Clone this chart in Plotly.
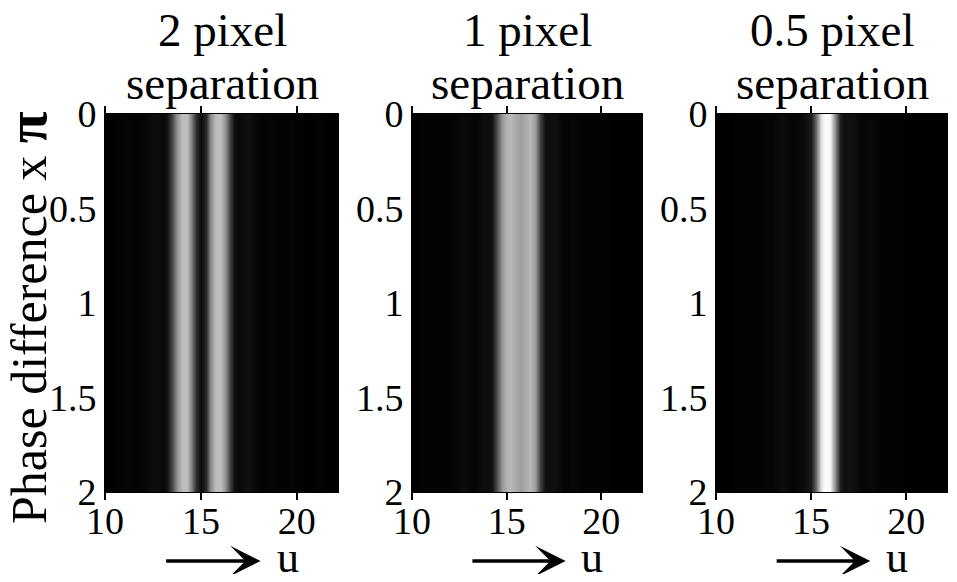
import plotly.graph_objects as go

# ---------------- data ----------------
u = [10.0, 10.25, 10.5, 10.75, 11.0, 11.25, 11.5, 11.75, 12.0, 12.25,
     12.5, 12.75, 13.0, 13.25, 13.5, 13.75, 14.0, 14.25, 14.5, 14.75,
     15.0, 15.25, 15.5, 15.75, 16.0, 16.25, 16.5, 16.75, 17.0, 17.25,
     17.5, 17.75, 18.0, 18.25, 18.5, 18.75, 19.0, 19.25, 19.5, 19.75,
     20.0, 20.25, 20.5, 20.75, 21.0, 21.25, 21.5, 21.75, 22.0, 22.25]

phase = [0.0, 0.5, 1.0, 1.5, 2.0]

two_px = [0.00, 0.00, 0.01, 0.01, 0.02, 0.02, 0.01, 0.01, 0.02, 0.03,
          0.05, 0.05, 0.03, 0.07, 0.28, 0.58, 0.74, 0.74, 0.52, 0.18,
          0.04, 0.16, 0.52, 0.73, 0.75, 0.58, 0.26, 0.06, 0.03, 0.05,
          0.06, 0.04, 0.02, 0.01, 0.02, 0.02, 0.01, 0.01, 0.01, 0.02,
          0.01, 0.01, 0.00, 0.00, 0.01, 0.01, 0.00, 0.00, 0.00, 0.00]

one_px = [0.00, 0.00, 0.01, 0.01, 0.01, 0.01, 0.01, 0.01, 0.01, 0.02,
          0.03, 0.04, 0.03, 0.02, 0.03, 0.05, 0.05, 0.08, 0.32, 0.60,
          0.71, 0.72, 0.66, 0.62, 0.67, 0.72, 0.62, 0.26, 0.06, 0.05,
          0.06, 0.04, 0.02, 0.02, 0.03, 0.02, 0.01, 0.01, 0.01, 0.01,
          0.01, 0.01, 0.00, 0.00, 0.00, 0.00, 0.00, 0.00, 0.00, 0.00]

half_px = [0.00, 0.00, 0.00, 0.00, 0.01, 0.01, 0.01, 0.01, 0.01, 0.01,
           0.02, 0.02, 0.02, 0.04, 0.05, 0.03, 0.02, 0.03, 0.04, 0.06,
           0.10, 0.42, 0.88, 1.00, 0.96, 0.55, 0.12, 0.06, 0.07, 0.06,
           0.03, 0.02, 0.03, 0.03, 0.02, 0.01, 0.01, 0.01, 0.01, 0.01,
           0.00, 0.00, 0.00, 0.00, 0.00, 0.00, 0.00, 0.00, 0.00, 0.00]

titles = [("2 pixel", "separation"), ("1 pixel", "separation"), ("0.5 pixel", "separation")]
x_ticks = [10, 15, 20]
y_ticks = [0, 0.5, 1, 1.5, 2]
y_ticklabels = ["0", "0.5", "1", "1.5", "2"]

# ---------------- figure ----------------
# The page body has an 8px default margin, so the figure is drawn 8px in;
# positions below are given in page pixels and converted to figure pixels.
OFF = 8
W, H = 941, 566
FONT = "Liberation Serif"
panels_px = [(105, 339), (412, 643), (716, 948)]
top_px, bot_px = 114, 492


def px_x(p):
    return (p - OFF) / W


def px_y(p):
    return 1 - (p - OFF) / H


fig = go.Figure()
profiles = [two_px, one_px, half_px]
for i, prof in enumerate(profiles):
    xa = "x" if i == 0 else f"x{i+1}"
    ya = "y" if i == 0 else f"y{i+1}"
    z = [prof for _ in phase]
    fig.add_trace(go.Heatmap(
        x=u, y=phase, z=z, xaxis=xa, yaxis=ya,
        colorscale=[[0, "black"], [1, "white"]], zmin=0, zmax=1,
        zsmooth="best", showscale=False, hoverinfo="skip"))

    x0, x1 = panels_px[i]
    axis_common = dict(showgrid=False, zeroline=False, automargin=False,
                       tickfont=dict(family=FONT, size=38, color="black"))
    fig.layout[("xaxis" if i == 0 else f"xaxis{i+1}")] = dict(
        domain=[px_x(x0), px_x(x1)], anchor=ya, range=[10, 22.2],
        tickvals=x_ticks, ticktext=[str(t) for t in x_ticks],
        ticks="outside", ticklen=7, tickwidth=1.5, tickcolor="black",
        showline=True, linecolor="black", linewidth=1, mirror="ticks",
        ticklabelstandoff=-12,
        **axis_common)
    fig.layout[("yaxis" if i == 0 else f"yaxis{i+1}")] = dict(
        domain=[px_y(bot_px), px_y(top_px)], anchor=xa, range=[2, 0],
        tickvals=y_ticks, ticktext=y_ticklabels, ticks="", ticklabelstandoff=0,
        showline=True, linecolor="black", linewidth=1,
        **axis_common)

    cx = px_x((x0 + x1) / 2)
    fig.add_annotation(text=titles[i][0], x=cx, y=px_y(30), xref="paper", yref="paper",
                       showarrow=False, xanchor="center", yanchor="middle",
                       font=dict(family=FONT, size=47, color="black"))
    fig.add_annotation(text=titles[i][1], x=cx, y=px_y(83), xref="paper", yref="paper",
                       showarrow=False, xanchor="center", yanchor="middle",
                       font=dict(family=FONT, size=47, color="black"))

    xd = f"{xa} domain"
    yd = f"{ya} domain"
    ay = (bot_px - 561) / (bot_px - top_px)
    fig.add_annotation(text="", x=0.665, y=ay, xref=xd, yref=yd,
                       ax=0.255, ay=ay, axref=xd, ayref=yd,
                       showarrow=True, arrowhead=3, arrowwidth=3.5, arrowsize=1.45,
                       arrowcolor="black", standoff=0, startstandoff=0)
    fig.add_annotation(text="u", x=0.78, y=(bot_px - 557) / (bot_px - top_px),
                       xref=xd, yref=yd, showarrow=False,
                       xanchor="center", yanchor="middle",
                       font=dict(family=FONT, size=44, color="black"))

fig.add_annotation(text="Phase difference x <b><span style=\"font-size:58px\">π</span></b>",
                   x=px_x(26), y=px_y(318),
                   xref="paper", yref="paper", showarrow=False, textangle=-90,
                   xanchor="center", yanchor="middle",
                   font=dict(family=FONT, size=50, color="black"))

fig.update_layout(width=W, height=H, margin=dict(l=0, r=0, t=0, b=0),
                  paper_bgcolor="white", plot_bgcolor="black", showlegend=False)

fig.write_html("out.html")
